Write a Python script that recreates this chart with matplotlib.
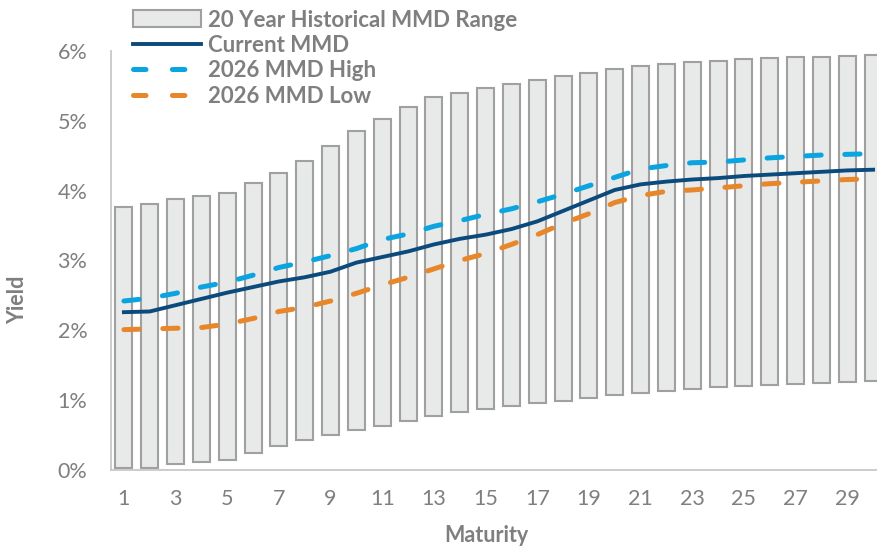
import matplotlib
matplotlib.use("Agg")
import matplotlib.pyplot as plt
from matplotlib.lines import Line2D
from matplotlib.patches import Patch

plt.rcParams["lines.scale_dashes"] = False

maturity = list(range(1, 31))

# 20 year historical range (low / high), percent
hist_low = [0.03, 0.03, 0.09, 0.11, 0.14, 0.25, 0.34, 0.43, 0.50, 0.57,
            0.63, 0.70, 0.78, 0.83, 0.87, 0.91, 0.96, 0.99, 1.03, 1.07,
            1.10, 1.13, 1.16, 1.19, 1.20, 1.22, 1.23, 1.25, 1.26, 1.27]
hist_high = [3.77, 3.81, 3.88, 3.93, 3.97, 4.11, 4.26, 4.43, 4.64, 4.86,
             5.03, 5.20, 5.34, 5.40, 5.47, 5.53, 5.59, 5.64, 5.69, 5.74,
             5.79, 5.82, 5.84, 5.86, 5.88, 5.90, 5.91, 5.92, 5.93, 5.94]

current_mmd = [2.26, 2.27, 2.36, 2.45, 2.54, 2.62, 2.70, 2.76, 2.84, 2.97,
               3.05, 3.13, 3.23, 3.31, 3.37, 3.45, 3.56, 3.71, 3.86, 4.01,
               4.09, 4.13, 4.16, 4.18, 4.21, 4.23, 4.25, 4.27, 4.29, 4.30]
mmd_high = [2.42, 2.46, 2.53, 2.62, 2.69, 2.79, 2.90, 2.98, 3.07, 3.17,
            3.30, 3.38, 3.49, 3.57, 3.66, 3.74, 3.84, 3.95, 4.07, 4.19,
            4.31, 4.36, 4.40, 4.41, 4.44, 4.47, 4.49, 4.51, 4.52, 4.53]
mmd_low = [2.01, 2.02, 2.03, 2.04, 2.09, 2.17, 2.27, 2.33, 2.42, 2.53,
           2.65, 2.76, 2.88, 3.00, 3.10, 3.23, 3.37, 3.53, 3.67, 3.83,
           3.93, 3.99, 4.01, 4.04, 4.07, 4.10, 4.12, 4.14, 4.16, 4.17]

x_ticks = list(range(1, 30, 2))
y_ticks = [0, 1, 2, 3, 4, 5, 6]

GRAY_TXT = "#7f7f7f"
NAVY = "#0b4a7c"
BLUE = "#0aa5e0"
ORANGE = "#e8872a"
DASH = (0, (11, 17))

fig = plt.figure(figsize=(8.78, 5.48), dpi=100)
ax = fig.add_axes([111 / 878, 1 - 470 / 548, 775 / 878, 419 / 548])

heights = [h - l for h, l in zip(hist_high, hist_low)]
ax.bar(maturity, heights, bottom=hist_low, width=0.66,
       color="#e8e9e9", edgecolor="#a0a0a0", linewidth=1.5, zorder=1)

ax.plot(maturity, mmd_high, color=BLUE, lw=3.6, linestyle=DASH,
        dash_capstyle="round", zorder=3)
ax.plot(maturity, mmd_low, color=ORANGE, lw=3.6, linestyle=DASH,
        dash_capstyle="round", zorder=3)
ax.plot(maturity, current_mmd, color=NAVY, lw=2.8, zorder=4)

ax.set_xlim(0.5, 30.5)
ax.set_ylim(0, 6)
ax.set_xticks(x_ticks)
ax.set_yticks(y_ticks)
ax.set_yticklabels([f"{v}%" for v in y_ticks])
ax.tick_params(length=0, labelsize=15.5, labelcolor=GRAY_TXT)
ax.tick_params(axis="y", pad=17)
ax.tick_params(axis="x", pad=14)
for lab in ax.get_xticklabels() + ax.get_yticklabels():
    lab.set_family("Lato")

for side in ["top", "right"]:
    ax.spines[side].set_visible(False)
for side in ["left", "bottom"]:
    ax.spines[side].set_color("#c8c8c8")
    ax.spines[side].set_linewidth(1.3)

fig.text(486 / 878, 1 - 536 / 548, "Maturity", ha="center", va="center",
         fontsize=15.5, fontweight="bold", color=GRAY_TXT, family="Lato")
fig.text(18 / 878, 1 - 300 / 548, "Yield", ha="center", va="center",
         rotation=90, fontsize=15.5, fontweight="bold", color=GRAY_TXT,
         family="Lato")

handles = [
    Patch(facecolor="#e8e9e9", edgecolor="#a0a0a0", linewidth=1.5),
    Line2D([], [], color=NAVY, lw=2.8),
    Line2D([], [], color=BLUE, lw=3.6, linestyle=(0, (9, 19)),
           dash_capstyle="round"),
    Line2D([], [], color=ORANGE, lw=3.6, linestyle=(0, (9, 19)),
           dash_capstyle="round"),
]
labels = ["20 Year Historical MMD Range", "Current MMD", "2026 MMD High",
          "2026 MMD Low"]
leg = fig.legend(handles, labels, loc="upper left",
                 bbox_to_anchor=(117 / 878, 1 + 6 / 548), frameon=False,
                 handlelength=3.1, handleheight=0.8, handletextpad=0.3,
                 labelspacing=0.2, borderpad=0.2,
                 prop={"family": "Lato", "weight": "bold", "size": 16})
for t in leg.get_texts():
    t.set_color(GRAY_TXT)

fig.savefig("out.png", dpi=100)
